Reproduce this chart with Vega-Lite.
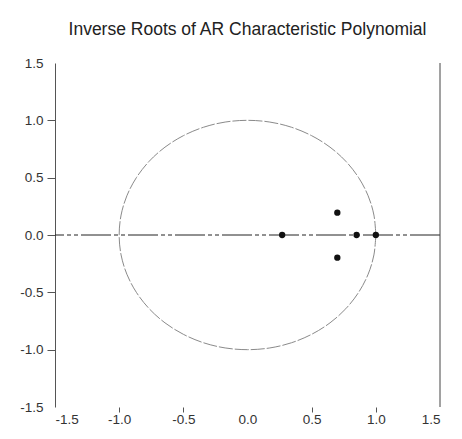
{
  "$schema": "https://vega.github.io/schema/vega-lite/v6.json",
  "width": 385,
  "height": 344,
  "autosize": "none",
  "padding": {"left": 55, "top": 63, "right": 22, "bottom": 32},
  "background": "white",
  "config": {
    "view": {"stroke": null},
    "font": "Liberation Sans",
    "axis": {"grid": false, "labelFont": "Liberation Sans", "labelFontSize": 13.5, "labelColor": "#333", "domainColor": "#555", "tickColor": "#555", "labelFontWeight": "normal"}
  },
  "title": {"text": "Inverse Roots of AR Characteristic Polynomial", "font": "Liberation Sans", "fontSize": 17.5, "fontWeight": "normal", "color": "#222", "offset": 18, "anchor": "middle"},
  "datasets": {
    "circle": [
      {"a": 0, "re": 1.0, "im": 0.0},
      {"a": 10, "re": 0.985, "im": 0.174},
      {"a": 20, "re": 0.94, "im": 0.342},
      {"a": 30, "re": 0.866, "im": 0.5},
      {"a": 40, "re": 0.766, "im": 0.643},
      {"a": 50, "re": 0.643, "im": 0.766},
      {"a": 60, "re": 0.5, "im": 0.866},
      {"a": 70, "re": 0.342, "im": 0.94},
      {"a": 80, "re": 0.174, "im": 0.985},
      {"a": 90, "re": 0.0, "im": 1.0},
      {"a": 100, "re": -0.174, "im": 0.985},
      {"a": 110, "re": -0.342, "im": 0.94},
      {"a": 120, "re": -0.5, "im": 0.866},
      {"a": 130, "re": -0.643, "im": 0.766},
      {"a": 140, "re": -0.766, "im": 0.643},
      {"a": 150, "re": -0.866, "im": 0.5},
      {"a": 160, "re": -0.94, "im": 0.342},
      {"a": 170, "re": -0.985, "im": 0.174},
      {"a": 180, "re": -1.0, "im": 0.0},
      {"a": 190, "re": -0.985, "im": -0.174},
      {"a": 200, "re": -0.94, "im": -0.342},
      {"a": 210, "re": -0.866, "im": -0.5},
      {"a": 220, "re": -0.766, "im": -0.643},
      {"a": 230, "re": -0.643, "im": -0.766},
      {"a": 240, "re": -0.5, "im": -0.866},
      {"a": 250, "re": -0.342, "im": -0.94},
      {"a": 260, "re": -0.174, "im": -0.985},
      {"a": 270, "re": 0.0, "im": -1.0},
      {"a": 280, "re": 0.174, "im": -0.985},
      {"a": 290, "re": 0.342, "im": -0.94},
      {"a": 300, "re": 0.5, "im": -0.866},
      {"a": 310, "re": 0.643, "im": -0.766},
      {"a": 320, "re": 0.766, "im": -0.643},
      {"a": 330, "re": 0.866, "im": -0.5},
      {"a": 340, "re": 0.94, "im": -0.342},
      {"a": 350, "re": 0.985, "im": -0.174},
      {"a": 360, "re": 1.0, "im": 0.0}
    ],
    "roots": [
      {"re": 0.27, "im": 0.0},
      {"re": 0.70, "im": 0.195},
      {"re": 0.70, "im": -0.198},
      {"re": 0.85, "im": 0.0},
      {"re": 1.0, "im": 0.0}
    ]
  },
  "layer": [
    {
      "data": {"name": "circle"},
      "mark": {"type": "line", "color": "#8a8a8a", "strokeWidth": 1, "strokeDash": [14, 2], "interpolate": "cardinal"},
      "encoding": {
        "x": {"field": "re", "type": "quantitative", "scale": {"domain": [-1.5, 1.5], "nice": false, "zero": false},
          "axis": {"title": null, "values": [-1.5, -1.0, -0.5, 0.0, 0.5, 1.0, 1.5], "labelExpr": "(datum.value < 0 ? '-' : '') + format(abs(datum.value), '.1f')", "domain": false, "tickSize": 5, "labelPadding": 0,
            "tickOpacity": {"condition": {"test": "datum.value == 0 || abs(datum.value) == 1.5", "value": 0}, "value": 1}}},
        "y": {"field": "im", "type": "quantitative", "scale": {"domain": [-1.5, 1.5], "nice": false, "zero": false},
          "axis": {"title": null, "values": [-1.5, -1.0, -0.5, 0.0, 0.5, 1.0, 1.5], "labelExpr": "(datum.value < 0 ? '-' : '') + format(abs(datum.value), '.1f')", "tickSize": 8, "labelPadding": 4,
            "tickOpacity": {"condition": {"test": "abs(datum.value) == 1.5", "value": 0}, "value": 1}}},
        "order": {"field": "a", "type": "quantitative"}
      }
    },
    {
      "data": {"values": [{"im": 0}]},
      "mark": {"type": "rule", "color": "#222", "strokeWidth": 1, "strokeDash": [30, 3, 4, 3, 4, 3]},
      "encoding": {"y": {"field": "im", "type": "quantitative"}}
    },
    {
      "data": {"values": [{"re": 1.5}]},
      "mark": {"type": "rule", "color": "#444", "strokeWidth": 1},
      "encoding": {"x": {"field": "re", "type": "quantitative"}}
    },
    {
      "data": {"name": "roots"},
      "mark": {"type": "point", "filled": true, "color": "#111", "size": 40, "opacity": 1},
      "encoding": {
        "x": {"field": "re", "type": "quantitative"},
        "y": {"field": "im", "type": "quantitative"}
      }
    }
  ]
}
